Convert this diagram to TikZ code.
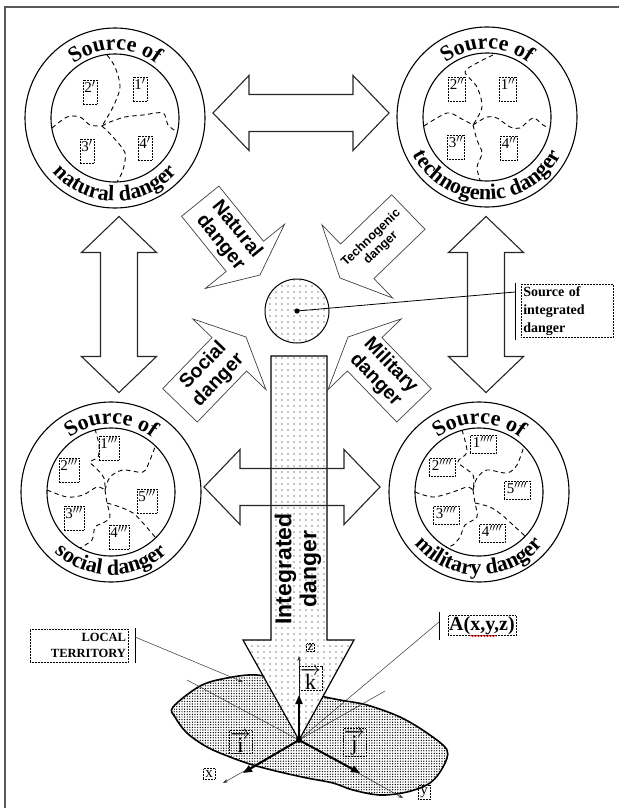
\documentclass[tikz,border=0pt]{standalone}
\usepackage{fontspec}
\setmainfont{Liberation Serif}
\setsansfont{Liberation Sans}
\newfontface\ringface{Liberation Serif Bold}
\usetikzlibrary{decorations.text,decorations.pathmorphing,patterns,arrows.meta,calc}

\pgfdeclarepatternformonly{sparsedots}{\pgfqpoint{-1pt}{-1pt}}{\pgfqpoint{1pt}{1pt}}{\pgfqpoint{6pt}{6pt}}{%
  \pgfpathcircle{\pgfqpoint{0pt}{0pt}}{0.6pt}\pgfusepath{fill}}
\pgfdeclarepatternformonly{densedots}{\pgfqpoint{-1pt}{-1pt}}{\pgfqpoint{1pt}{1pt}}{\pgfqpoint{2.6pt}{2.6pt}}{%
  \pgfpathcircle{\pgfqpoint{0pt}{0pt}}{0.7pt}\pgfusepath{fill}}

\newcommand\ringfont{\ringface\fontsize{22}{22}\selectfont}

\tikzset{
  frameline/.style={line width=1.6pt, black!65},
  ringline/.style={line width=1.1pt},
  dashline/.style={line width=0.9pt, dash pattern=on 4.5pt off 3.5pt},
  numbox/.style={draw, densely dotted, line width=0.5pt, inner sep=1.5pt,
    font=\fontsize{15}{15}\selectfont, text height=11pt, text depth=10pt},
  numboxw/.style={draw, densely dotted, line width=0.5pt, inner sep=1.5pt,
    font=\fontsize{15}{15}\selectfont, text height=11pt, text depth=4pt, minimum width=26pt},
  blockarrow/.style={draw=black!75, line width=0.7pt},
  dblarrow/.style={draw=black!85, line width=1.1pt},
  dangertext/.style={font=\sffamily\bfseries\fontsize{19.5}{21}\selectfont, align=center, inner sep=0pt},
  lblbox/.style={draw, densely dotted, line width=0.5pt, inner sep=2pt},
  thinline/.style={line width=0.5pt, black!80},
  axisarrow/.style={thinline, -{Stealth[length=5pt,width=3.5pt]}},
  vecarrow/.style={line width=2pt, -{Triangle[length=9pt,width=7pt]}},
  leaderbar/.style={line width=0.9pt},
}

\newcommand\srccircle[4]{%
  \coordinate (#1) at #2;
  \draw[ringline] (#1) circle[radius=90];
  \draw[ringline] (#1) circle[radius=64];
  \path[decorate,decoration={text along path,text align={center},text={|\ringfont|#3}}]
    ($(#1)+(155:68)$) arc[start angle=155,end angle=25,radius=68];
  \path[decorate,decoration={text along path,text align={center},text={|\ringfont|#4}}]
    ($(#1)+(198:83)$) arc[start angle=198,end angle=342,radius=83];
}
\newcommand\dangerarrow[2]{%
  \draw[blockarrow,shift={#1},rotate=#2] (0,0) -- (-24,51) -- (-24,24) -- (-95,24)
    -- (-95,-24) -- (-24,-24) -- (-24,-51) -- cycle;}
\newcommand\twowayarrow[2]{%
  \draw[dblarrow,shift={#1},rotate=#2] (-88,0) -- (-52,37.5) -- (-52,18.5) -- (52,18.5)
    -- (52,37.5) -- (88,0) -- (52,-37.5) -- (52,-18.5) -- (-52,-18.5) -- (-52,-37.5) -- cycle;}

\begin{document}
\begin{tikzpicture}[x=1pt,y=1pt]
\useasboundingbox (0,0) rectangle (619,-808);
\draw[frameline] (5,-808) -- (5,-7) -- (619,-7);

% ---------- source circles ----------
\srccircle{cnat}{(115,-118)}{Source of}{natural danger}
\srccircle{ctech}{(487,-117)}{Source of}{technogenic danger}
\srccircle{csoc}{(111,-492)}{Source of}{social danger}
\srccircle{cmil}{(479,-492)}{Source of}{military danger}

% natural
\draw[dashline] plot[smooth] coordinates {(107,-55) (115,-67) (120,-87) (113,-107) (102,-126)};
\draw[dashline] plot[smooth] coordinates {(102,-126) (113,-137) (125,-153) (123,-170) (117,-182)};
\draw[dashline] plot[smooth] coordinates {(52,-128) (67,-117) (80,-117) (90,-125) (102,-126)};
\draw[dashline] plot[smooth] coordinates {(102,-126) (110,-122) (125,-117) (143,-115) (163,-113) (168,-125) (177,-132)};
\node[numbox] (n2a) at (90,-92) {2$'$};
\node[numbox] (n1a) at (140,-89) {1$'$};
\node[numbox] (n3a) at (87,-151) {3$'$};
\node[numbox] (n4a) at (145,-148) {4$'$};

% technogenic
\draw[dashline] plot[smooth] coordinates {(493,-55) (477,-63) (465,-72) (477,-87) (482,-107) (473,-125)};
\draw[dashline] plot[smooth] coordinates {(424,-126) (447,-113) (460,-118) (473,-125)};
\draw[dashline] plot[smooth] coordinates {(473,-125) (477,-140) (482,-153) (477,-167) (480,-180)};
\draw[dashline] plot[smooth] coordinates {(473,-125) (487,-117) (497,-118) (510,-127) (520,-128) (533,-118) (543,-125) (549,-128)};
\node[numbox] (n2b) at (457,-89) {2$''$};
\node[numbox] (n1b) at (508,-89) {1$''$};
\node[numbox] (n3b) at (456,-147) {3$''$};
\node[numbox] (n4b) at (509,-148) {4$''$};

% social
\draw[dashline] plot[smooth] coordinates {(95,-429) (99,-445) (98,-457) (90,-462) (96,-468) (104,-478) (105,-490)};
\draw[dashline] plot[smooth] coordinates {(47,-490) (67,-497) (83,-495) (97,-487) (105,-490)};
\draw[dashline] plot[smooth] coordinates {(105,-490) (110,-477) (123,-470) (143,-472) (150,-460) (155,-447)};
\draw[dashline] plot[smooth] coordinates {(105,-490) (107,-503) (110,-517) (103,-523) (95,-527) (92,-540) (80,-548)};
\draw[dashline] plot[smooth] coordinates {(107,-503) (120,-507) (133,-513) (143,-523) (155,-537)};
\node[numbox] (n1c) at (109,-448) {1$'''$};
\node[numbox] (n2c) at (69,-470) {2$'''$};
\node[numbox] (n5c) at (147,-501) {5$'''$};
\node[numbox] (n3c) at (74,-518) {3$'''$};
\node[numbox] (n4c) at (119,-537) {4$'''$};

% military
\draw[dashline] plot[smooth] coordinates {(462,-430) (467,-452) (458,-462) (473,-475) (473,-490)};
\draw[dashline] plot[smooth] coordinates {(415,-492) (433,-497) (453,-492) (467,-487) (473,-490)};
\draw[dashline] plot[smooth] coordinates {(473,-490) (477,-478) (487,-470) (507,-473) (517,-465) (524,-446)};
\draw[dashline] plot[smooth] coordinates {(473,-490) (475,-503) (477,-517) (465,-525) (460,-537) (453,-545) (446,-547)};
\draw[dashline] plot[smooth] coordinates {(475,-503) (490,-507) (502,-515) (513,-525) (525,-536)};
\node[numboxw] (n1d) at (483,-444) {1$''''$};
\node[numboxw] (n2d) at (442,-467) {2$''''$};
\node[numboxw] (n5d) at (517,-490) {5$''''$};
\node[numboxw] (n3d) at (446,-515) {3$''''$};
\node[numboxw] (n4d) at (492,-533) {4$''''$};

% ---------- double arrows ----------
\twowayarrow{(301,-113)}{0}
\twowayarrow{(119,-304.5)}{90}
\twowayarrow{(486,-304.5)}{90}

% ---------- danger arrows ----------
\dangerarrow{(260,-275)}{-51}
\dangerarrow{(340,-278)}{224}
\dangerarrow{(246,-337)}{46}
\dangerarrow{(348,-337)}{134}
\node[dangertext, rotate=-51] (tnat) at (228.5,-236) {Natural\\danger};
\node[dangertext, rotate=44, font=\sffamily\bfseries\fontsize{12.5}{14}\selectfont] (ttech) at (376,-243) {Technogenic\\danger};
\node[dangertext, rotate=46] (tsoc) at (211,-373) {Social\\danger};
\node[dangertext, rotate=-46] (tmil) at (383,-373) {Military\\danger};

% ---------- local territory ----------
\draw[line width=1.6pt, pattern=densedots] plot[smooth cycle, tension=0.55] coordinates {
  (173,-707) (200,-686) (227,-678) (257,-675) (290,-683) (318,-695) (340,-700) (367,-705)
  (400,-717) (427,-733) (447,-750) (443,-767) (430,-783) (407,-792) (380,-795) (353,-790)
  (333,-783) (307,-778) (280,-772) (253,-765) (230,-757) (207,-747) (187,-733) (175,-717)};

% ---------- integrated arrow ----------
\draw[line width=1.2pt, preaction={fill=white}, pattern=sparsedots]
  (271,-356) -- (327,-356) -- (327,-640) -- (354,-640) -- (299,-740) -- (243,-640) -- (271,-640) -- cycle;
\twowayarrow{(292,-487)}{0}
\node[rotate=90, font=\sffamily\bfseries\fontsize{23}{25}\selectfont, align=center, inner sep=0pt] (tint) at (298,-569) {Integrated\\danger};

% ---------- integrated source ----------
\draw[line width=1pt, preaction={fill=white}, pattern=sparsedots] (297,-311) circle[radius=32];
\coordinate (isrc) at (297,-311);
\fill (isrc) circle[radius=2.6];
\coordinate (ibar) at (515,-292);
\draw[line width=0.8pt] (isrc) -- (ibar);
\draw[leaderbar] (515,-283) -- (515,-340);
\node[lblbox, anchor=north west, text width=88pt, align=left, font=\bfseries\fontsize{14}{18}\selectfont] (lint) at (521,-284) {Source of\\integrated\\danger};

% ---------- labels ----------
\node[lblbox, text width=94pt, align=right, font=\bfseries\fontsize{12.5}{16}\selectfont, minimum height=33pt] (lloc) at (79,-645.5) {LOCAL\\TERRITORY};
\draw[leaderbar] (135,-628) -- (135,-663);
\coordinate (locbar) at (135,-637);
\coordinate (locend) at (243,-682);
\draw[thinline, -{Stealth[length=5pt,width=3.5pt,open]}] (locbar) -- (locend);

\node[lblbox, font=\bfseries\fontsize{20}{20}\selectfont, inner sep=1pt] (lA) at (482,-625.5) {A(x,y,z)};
\draw[red, line width=0.5pt, decorate, decoration={snake, amplitude=0.8pt, segment length=3pt}] (470,-636) -- (497,-636);
\draw[leaderbar] (439,-612) -- (439,-640);
\coordinate (Abar) at (439,-622);

% ---------- axes ----------
\coordinate (O) at (299,-740);
\coordinate (pl) at (187,-680);
\coordinate (pr) at (385,-691);
\coordinate (zend) at (299,-656);
\coordinate (xend) at (223,-783);
\coordinate (yend) at (403,-798);
\coordinate (iend) at (243,-773);
\coordinate (jend) at (360,-773);
\coordinate (kend) at (299,-695);
\draw[thinline] (O) -- (pl);
\draw[thinline] (O) -- (pr);
\draw[thinline] (O) -- (Abar);
\draw[axisarrow] (O) -- (zend);
\draw[axisarrow] (O) -- (xend);
\draw[axisarrow] (O) -- (yend);
\draw[vecarrow] (O) -- (iend);
\draw[vecarrow] (O) -- (jend);
\draw[vecarrow] (O) -- (kend);
\fill (O) circle[radius=3];

\node[lblbox, font=\fontsize{13}{13}\selectfont, inner sep=1pt] (lz) at (310.5,-647.5) {z};
\node[lblbox, font=\fontsize{22}{22}\selectfont, inner sep=1pt] (lk) at (310.5,-678.5) {$\overrightarrow{\mbox{k}}$};
\node[lblbox, font=\fontsize{22}{22}\selectfont, inner sep=1pt] (li) at (240.5,-742) {$\overrightarrow{\mbox{i}}$};
\node[lblbox, font=\fontsize{22}{22}\selectfont, inner sep=1pt] (lj) at (354.5,-742.5) {$\overrightarrow{\mbox{j}}$};
\node[lblbox, font=\fontsize{15}{15}\selectfont, inner sep=2pt] (lx) at (209,-774) {x};
\node[lblbox, font=\fontsize{15}{15}\selectfont, inner sep=2pt] (ly) at (424,-792.5) {y};
\end{tikzpicture}
\end{document}
